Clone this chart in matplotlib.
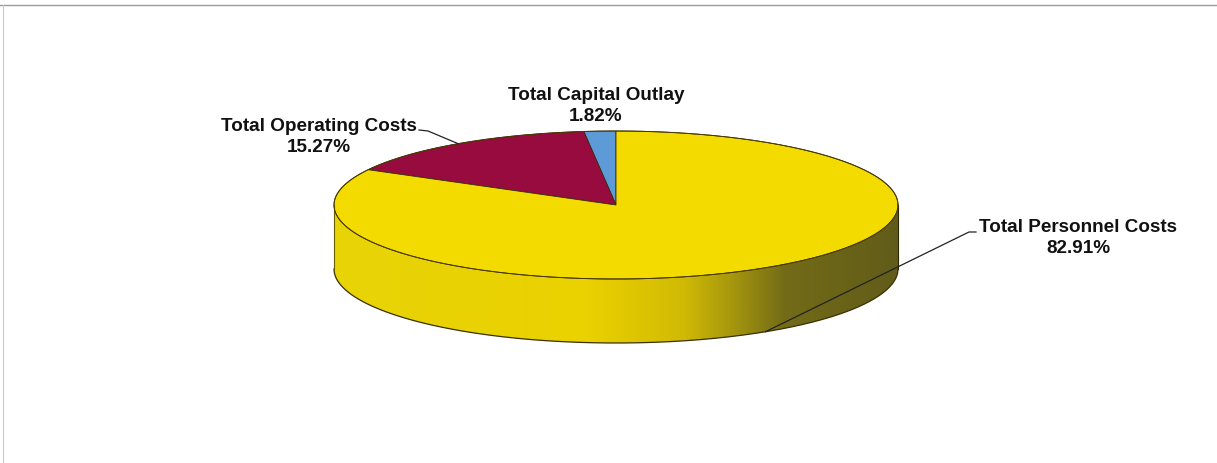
import numpy as np
import matplotlib
matplotlib.use("Agg")
import matplotlib.pyplot as plt
from matplotlib.patches import Polygon
from matplotlib.colors import LinearSegmentedColormap

# Budget shares (percent), drawn counter-clockwise from 12 o'clock
categories = ["Total Capital Outlay", "Total Operating Costs", "Total Personnel Costs"]
shares = [1.82, 15.27, 82.91]
labels = [f"{c}\n{v:.2f}%" for c, v in zip(categories, shares)]
top_colors = ["#5C9BD8", "#980B3E", "#F3DB00"]

W, H = 1217, 463
fig = plt.figure(figsize=(W / 100, H / 100), dpi=100)
ax = fig.add_axes([0, 0, 1, 1])
ax.set_xlim(0, W)
ax.set_ylim(H, 0)
ax.axis("off")

# thin frame along top and left edges
ax.plot([0, W], [5, 5], color="#9a9a9a", lw=1.0)
ax.plot([3, 3], [5, H], color="#c8c8d8", lw=0.8)

# pie geometry (pixel space, y downwards)
cx, cy = 616, 205
a, b = 282, 74
depth = 64


def ell(phi_deg, dy=0.0):
    p = np.radians(phi_deg)
    return cx + a * np.cos(p), cy - b * np.sin(p) + dy


# side wall (front half of the cylinder)
phis = np.linspace(180, 360, 400)
tx, ty = ell(phis)
bx, by = ell(phis[::-1], depth)
wall_xy = np.column_stack([np.concatenate([tx, bx]), np.concatenate([ty, by])])
wall = Polygon(wall_xy, closed=True, facecolor="none", edgecolor="none")
ax.add_patch(wall)

wall_cmap = LinearSegmentedColormap.from_list(
    "wall",
    [(0.0, (0.91, 0.83, 0.03)),
     (0.45, (0.92, 0.82, 0.00)),
     (0.62, (0.82, 0.73, 0.02)),
     (0.72, (0.62, 0.57, 0.06)),
     (0.80, (0.45, 0.42, 0.09)),
     (1.0, (0.38, 0.36, 0.10))])
grad = np.linspace(0, 1, 512)[None, :]
im = ax.imshow(grad, cmap=wall_cmap, aspect="auto",
               extent=(cx - a, cx + a, cy + b + depth + 2, cy - 2), zorder=1,
               interpolation="bilinear")
im.set_clip_path(wall)

# wall outlines
ax.plot(*ell(phis, depth), color="#3a3000", lw=0.9, zorder=3)
ax.plot([cx - a, cx - a], [cy, cy + depth], color="#6a6000", lw=0.8, zorder=3)
ax.plot([cx + a, cx + a], [cy, cy + depth], color="#2a2600", lw=0.8, zorder=3)

# top face wedges
start = 90.0
bounds = []
for v, col in zip(shares, top_colors):
    sweep = v / 100 * 360
    ph = np.linspace(start, start + sweep, max(int(sweep * 3), 4))
    px, py = ell(ph)
    pts = np.column_stack([np.concatenate([[cx], px]), np.concatenate([[cy], py])])
    ax.add_patch(Polygon(pts, closed=True, facecolor=col, edgecolor="#3a2a10",
                         lw=0.6, zorder=2))
    bounds.append((start, start + sweep))
    start += sweep

# top rim outline
ring = np.linspace(0, 360, 720)
ax.plot(*ell(ring), color="#4a3a00", lw=0.7, zorder=3)

# labels and leader lines
font = dict(family="Liberation Sans", weight="bold", fontsize=13.6, color="#111111",
            ha="center", va="center", linespacing=1.28)
ax.text(596, 106, labels[0], **font)
ax.text(319, 137, labels[1], **font)
ax.text(1078, 238, labels[2], **font)

op_mid = ell((bounds[1][0] + bounds[1][1]) / 2)
ax.plot([419, 428, op_mid[0]], [130, 131, op_mid[1]], color="#222222", lw=0.9, zorder=4)
pers_pt = ell(302, depth)
ax.plot([976, 969, pers_pt[0]], [232, 232, pers_pt[1]], color="#222222", lw=0.9, zorder=4)

fig.savefig("out.png", dpi=100, facecolor="white")
